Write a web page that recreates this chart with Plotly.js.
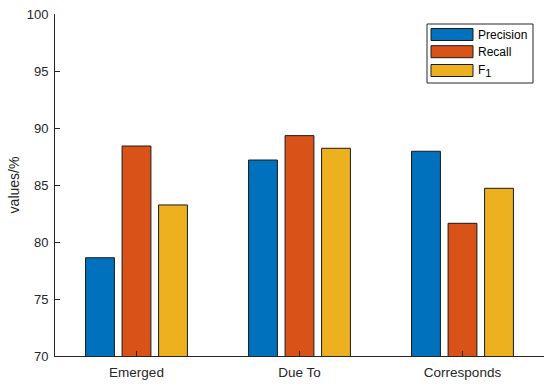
<!DOCTYPE html>
<html>
<head>
<meta charset="utf-8">
<script src="https://cdn.plot.ly/plotly-3.0.1.min.js"></script>
<style>html,body{margin:0;padding:0;background:#fff;}#chart{width:550px;height:386px;}</style>
</head>
<body>
<div id="chart"></div>
<script>
const categories = ['Emerged', 'Due To', 'Corresponds'];
const seriesNames = ['Precision', 'Recall', 'F<sub><span style="font-size:11px">1</span></sub>'];
const precision = [78.62, 87.19, 87.96];
const recall = [88.42, 89.33, 81.64];
const f1 = [83.25, 88.22, 84.71];
const yTicks = [70, 75, 80, 85, 90, 95, 100];

const colors = ['#0072BD', '#D95319', '#EDB120'];
const seriesValues = [precision, recall, f1];
const FONT = 'Liberation Sans, Arial, Helvetica, sans-serif';
const AX = '#262626';

const traces = seriesValues.map((vals, i) => ({
  type: 'bar',
  x: categories,
  y: vals,
  name: seriesNames[i],
  marker: {color: colors[i], line: {color: '#1a1a1a', width: 1}},
  hoverinfo: 'skip'
}));

// plot area in pixels
const W = 550, H = 386;
const L = 55, R = 544, T = 14, B = 356;
const px = x => (x - L) / (R - L);
const py = y => (B - y) / (B - T);

const shapes = [{
  type: 'rect', xref: 'paper', yref: 'paper',
  x0: px(427), x1: px(533), y0: py(83), y1: py(24),
  fillcolor: '#ffffff', line: {color: AX, width: 1}, layer: 'above'
}];
const annotations = [];
const rowCenters = [34.5, 51.7, 70.5];
const textCenters = [35, 51.7, 71];
seriesNames.forEach((n, i) => {
  shapes.push({
    type: 'rect', xref: 'paper', yref: 'paper',
    x0: px(431), x1: px(473), y0: py(rowCenters[i] + 6), y1: py(rowCenters[i] - 6),
    fillcolor: colors[i], line: {color: '#1a1a1a', width: 1}, layer: 'above'
  });
  annotations.push({
    xref: 'paper', yref: 'paper', x: px(476), y: py(textCenters[i]),
    xanchor: 'left', yanchor: 'middle', showarrow: false,
    text: n, font: {family: FONT, size: 12, color: '#000'}
  });
});

const layout = {
  width: W, height: H,
  margin: {l: L, r: W - R, t: T, b: H - B, pad: 0},
  paper_bgcolor: '#fff', plot_bgcolor: '#fff',
  showlegend: false,
  barmode: 'group',
  bargap: 0.328,
  bargroupgap: 0.21,
  font: {family: FONT, color: AX},
  xaxis: {
    type: 'category', range: [-0.5, 2.5],
    showline: true, linecolor: AX, linewidth: 1,
    ticks: 'inside', ticklen: 5, tickcolor: AX,
    showgrid: false, zeroline: false,
    ticklabelstandoff: 4,
    tickfont: {family: FONT, size: 13.5, color: AX}
  },
  yaxis: {
    range: [70, 100], tickvals: yTicks,
    showline: true, linecolor: AX, linewidth: 1,
    ticks: 'inside', ticklen: 5, tickcolor: AX,
    showgrid: false, zeroline: false,
    ticklabelstandoff: 3,
    tickfont: {family: FONT, size: 13, color: AX},
    title: {text: 'values/%', font: {family: FONT, size: 14, color: AX}, standoff: 3}
  },
  shapes: shapes,
  annotations: annotations
};

Plotly.newPlot('chart', traces, layout, {displayModeBar: false, staticPlot: true});
</script>
</body>
</html>
